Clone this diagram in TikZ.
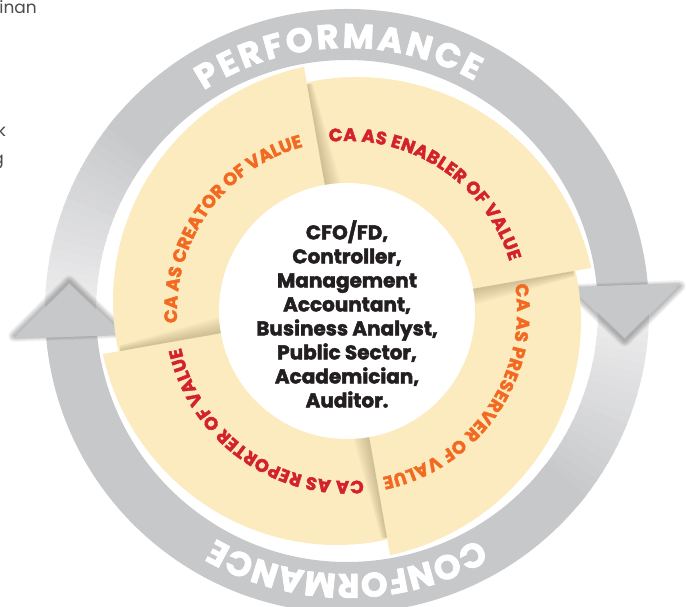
\documentclass[tikz,border=0pt]{standalone}
\usepackage{fontspec}
\setmainfont{Poppins}[BoldFeatures={FakeBold=2.2}]
\usetikzlibrary{decorations.text}

\definecolor{cream}{HTML}{FCEBBF}
\definecolor{ringgrey}{HTML}{C7C8CA}
\definecolor{ringlight}{HTML}{EFEFF0}
\definecolor{valueorange}{HTML}{F26A22}
\definecolor{valuered}{HTML}{D3222A}
\definecolor{shadowtan}{HTML}{7A6A40}
\definecolor{bodyblack}{HTML}{231F20}
\definecolor{sidegrey}{HTML}{4D4D4F}

\begin{document}
\begin{tikzpicture}[x=1pt, y=1pt,
	ringtext/.style = {% words on the grey arrows
		decorate, decoration={text along path, text align=fit to path,
		text color=white, text={|\fontsize{34}{34}\selectfont\bfseries|#1}}},
	valuetext/.style 2 args = {% captions of the four sectors
		decorate, decoration={text along path, text align=fit to path,
		text color=#1, text={|\fontsize{18}{18}\selectfont\bfseries|#2}}},
	sidetext/.style = {% cut off words at the left
		text=sidegrey, font=\fontsize{17}{20}\selectfont, inner sep=0pt, anchor=base east},
	]

	% frame
	\useasboundingbox (-347,-296) rectangle (339,311);
	\clip (-347,-296) rectangle (339,311);
	\fill[white] (-347,-296) rectangle (339,311);

	% words of the column on the left
	\node[sidetext] (inan) at (-310,297) {inan};
	\node[sidetext] (kword) at (-341,174) {k};
	\node[sidetext] (gword) at (-343,146) {g};

	% grey arrow shafts, light tail first
	\foreach \r in {0,180}{
		\begin{scope}[rotate=\r]
			\foreach \i [evaluate=\i as \s using 182-2*\i, evaluate=\i as \p using int(5*\i)] in {0,...,20}
				\fill[ringgrey!\p!ringlight] (\s:251) arc[start angle=\s, end angle=\s-2.4, radius=251]
					-- (\s-2.4:302) arc[start angle=\s-2.4, end angle=\s, radius=302] -- cycle;
			\fill[ringgrey] (142.5:251) arc[start angle=142.5, end angle=5, radius=251]
				-- (5:302) arc[start angle=5, end angle=142.5, radius=302] -- cycle;
		\end{scope}
	}
	% arrow heads with soft shadow
	\foreach \r in {0,180}{
		\begin{scope}[rotate=\r]
			\foreach \w in {1,...,8}
				\draw[black, opacity=0.035, line width=1.5*\w, line join=round, shift={(0,-3)}]
					(6.1:226) -- (-5.5:279) -- (4.8:334) -- cycle;
			\fill[ringgrey] (6.1:226) -- (-5.5:279) -- (4.8:334) -- cycle;
		\end{scope}
	}

	\path[ringtext=PERFORMANCE] (123:263) arc[start angle=123, end angle=61, radius=263];
	\path[ringtext=CONFORMANCE] (-60:263) arc[start angle=-60, end angle=-120, radius=263];

	% cream sectors
	\foreach \a in {190,100,10,-80}
		\fill[cream] (\a:115) -- plot[domain=\a:\a-90, samples=45] (\x:{232+16*(\a-\x)/90})
			-- (\a-90:115) arc[start angle=\a-90, end angle=\a, radius=115] -- cycle;
	% shadows along the edges
	\foreach \a in {190,100,10,-80}{
		\begin{scope}[rotate=\a]
			\foreach \w in {2,4,...,16}
				\fill[shadowtan, opacity=0.045] (126,0) -- (230,0) -- (230,-0.35*\w) -- (126,-\w) -- cycle;
		\end{scope}
	}

	\path[valuetext={valueorange}{CA AS CREATOR OF VALUE}] (184:170) arc[start angle=184, end angle=105, radius=170];
	\path[valuetext={valuered}{CA AS ENABLER OF VALUE}] (96:170) arc[start angle=96, end angle=17, radius=170];
	\path[valuetext={valueorange}{CA AS PRESERVER OF VALUE}] (9:170) arc[start angle=9, end angle=-78, radius=170];
	\path[valuetext={valuered}{CA AS REPORTER OF VALUE}] (-84.5:170) arc[start angle=-84.5, end angle=-167.5, radius=170];

	% centre
	\node[circle, fill=white, minimum size=256, inner sep=0pt] (hub) at (0,0) {};
	\node[text=bodyblack, font=\fontsize{20}{24}\selectfont\bfseries, align=center] (roles) at (0,-3)
		{CFO/FD,\\Controller,\\Management\\Accountant,\\Business Analyst,\\Public Sector,\\Academician,\\Auditor.};

\end{tikzpicture}
\end{document}
